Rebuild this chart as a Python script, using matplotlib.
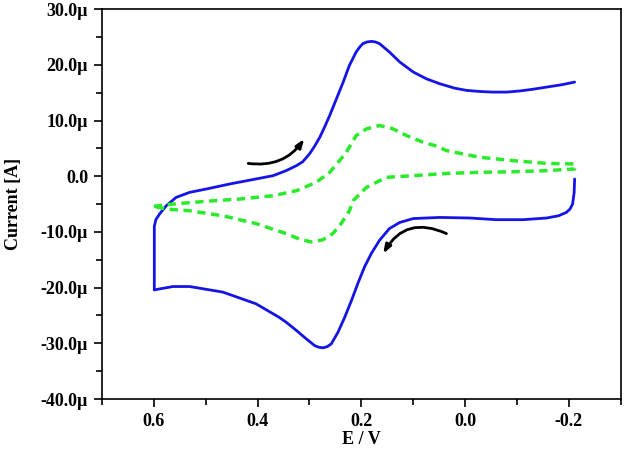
import numpy as np
import matplotlib
matplotlib.use('Agg')
import matplotlib.pyplot as plt
from matplotlib.ticker import FuncFormatter, MultipleLocator

plt.rcParams['font.family'] = ['Liberation Serif', 'DejaVu Serif']
plt.rcParams['font.weight'] = 'bold'
plt.rcParams['xtick.direction'] = 'out'
plt.rcParams['ytick.direction'] = 'out'

# blue CV, forward scan (upper branch, 0.6 -> -0.21 V), current in uA
blue_fwd_E = [0.599, 0.599, 0.596, 0.589, 0.576, 0.557, 0.531, 0.499, 0.454, 0.409,
              0.370, 0.345, 0.325, 0.313, 0.300, 0.290, 0.280, 0.270, 0.261, 0.248,
              0.235, 0.223, 0.210, 0.203, 0.197, 0.189, 0.181, 0.173, 0.165, 0.146,
              0.126, 0.100, 0.075, 0.049, 0.020, -0.003, -0.030, -0.053, -0.080, -0.105,
              -0.130, -0.157, -0.185, -0.211]
blue_fwd_I = [-20.4, -9.0, -7.8, -6.8, -5.3, -3.8, -2.9, -2.3, -1.4, -0.6,
              0.1, 1.0, 1.9, 2.6, 4.0, 5.4, 7.0, 9.0, 10.9, 13.9,
              16.9, 19.9, 22.3, 23.2, 23.8, 24.1, 24.2, 24.1, 23.8, 22.3,
              20.5, 18.7, 17.5, 16.6, 15.8, 15.4, 15.2, 15.1, 15.1, 15.3,
              15.6, 16.0, 16.4, 16.9]
# blue CV, reverse scan (lower branch, -0.21 -> 0.6 V)
blue_rev_E = [-0.211, -0.210, -0.207, -0.202, -0.195, -0.180, -0.157, -0.112, -0.060, -0.009,
              0.049, 0.100, 0.126, 0.146, 0.165, 0.181, 0.194, 0.207, 0.219, 0.232,
              0.245, 0.258, 0.266, 0.274, 0.282, 0.290, 0.306, 0.325, 0.345, 0.359,
              0.403, 0.467, 0.531, 0.563, 0.599]
blue_rev_I = [-0.5, -3.0, -5.0, -5.9, -6.5, -7.1, -7.5, -7.8, -7.8, -7.5,
              -7.4, -7.6, -8.3, -9.4, -11.5, -13.9, -16.3, -19.3, -22.3, -25.3,
              -28.0, -30.1, -30.6, -30.8, -30.7, -30.4, -29.2, -27.7, -26.2, -25.3,
              -22.9, -20.8, -19.8, -19.8, -20.4]

# green CV (dashed)
green_fwd_E = [0.600, 0.563, 0.499, 0.435, 0.370, 0.325, 0.287, 0.261, 0.242, 0.229,
               0.210, 0.190, 0.165, 0.139, 0.113, 0.081, 0.055, 0.036, -0.028, -0.092,
               -0.157, -0.211]
green_fwd_I = [-5.4, -5.0, -4.5, -4.1, -3.5, -2.6, -1.1, 0.7, 2.8, 4.3,
               7.3, 8.5, 9.1, 8.5, 7.3, 6.1, 5.4, 4.6, 3.4, 2.8,
               2.3, 2.2]
green_rev_E = [-0.211, -0.157, -0.092, -0.028, 0.036, 0.100, 0.152, 0.190, 0.216, 0.223,
               0.239, 0.255, 0.274, 0.296, 0.319, 0.345, 0.403, 0.467, 0.531, 0.576,
               0.600]
green_rev_I = [1.3, 1.0, 0.8, 0.7, 0.5, 0.1, -0.2, -2.0, -4.4, -6.2,
               -8.5, -10.3, -11.4, -11.8, -11.3, -10.3, -8.5, -7.1, -6.2, -5.9,
               -5.4]

uA = 1e-6

fig = plt.figure(figsize=(6.29, 4.54), dpi=100)
ax = fig.add_axes([0.162, 0.121, 0.825, 0.859])

blue = '#1414e6'
ax.plot(blue_fwd_E, np.array(blue_fwd_I) * uA, color=blue, lw=2.0,
        solid_joinstyle='round', solid_capstyle='round')
ax.plot(blue_rev_E, np.array(blue_rev_I) * uA, color=blue, lw=2.0,
        solid_joinstyle='round', solid_capstyle='round')
green_E = green_fwd_E + green_rev_E
green_I = np.array(green_fwd_I + green_rev_I) * uA
ax.plot(green_E, green_I, color='#2bea2b', lw=2.5, dashes=(2.4, 1.6))

# scan direction arrows
ax.annotate('', xy=(0.310, 6.7e-6), xytext=(0.418, 2.3e-6),
            arrowprops=dict(arrowstyle='-|>,head_length=0.5,head_width=0.18',
                            connectionstyle='arc3,rad=0.3',
                            lw=2, color='k', shrinkA=0, shrinkB=0))
ax.annotate('', xy=(0.158, -13.9e-6), xytext=(0.036, -10.3e-6),
            arrowprops=dict(arrowstyle='-|>,head_length=0.5,head_width=0.18',
                            connectionstyle='arc3,rad=0.45',
                            lw=2, color='k', shrinkA=0, shrinkB=0))

ax.set_xlim(0.7, -0.3)
ax.set_ylim(-40e-6, 30e-6)
ax.xaxis.set_major_locator(MultipleLocator(0.2))
ax.xaxis.set_minor_locator(MultipleLocator(0.1))
ax.yaxis.set_major_locator(MultipleLocator(10e-6))
ax.yaxis.set_minor_locator(MultipleLocator(5e-6))


def fmt_y(v, pos):
    u = v * 1e6
    if abs(u) < 1e-9:
        return '0.0'
    return '%.1f\u00b5' % u


ax.yaxis.set_major_formatter(FuncFormatter(fmt_y))
ax.xaxis.set_major_formatter(FuncFormatter(lambda v, p: '%.1f' % (0.0 if abs(v) < 1e-9 else v)))

ax.tick_params(which='major', length=6, width=1.2, labelsize=13)
ax.tick_params(which='minor', length=4, width=1.2)
ax.tick_params(axis='x', pad=4)
ax.tick_params(axis='y', pad=4)
ax.tick_params(top=False, right=False)
for s in ax.spines.values():
    s.set_linewidth(1.2)

ax.set_xlabel('E / V', fontsize=13, fontweight='bold')
ax.set_ylabel('Current [A]', fontsize=13, fontweight='bold')
ax.xaxis.set_label_coords(0.5, -0.082)
ax.yaxis.set_label_coords(-0.154, 0.5)

fig.savefig('out.png', dpi=100)
